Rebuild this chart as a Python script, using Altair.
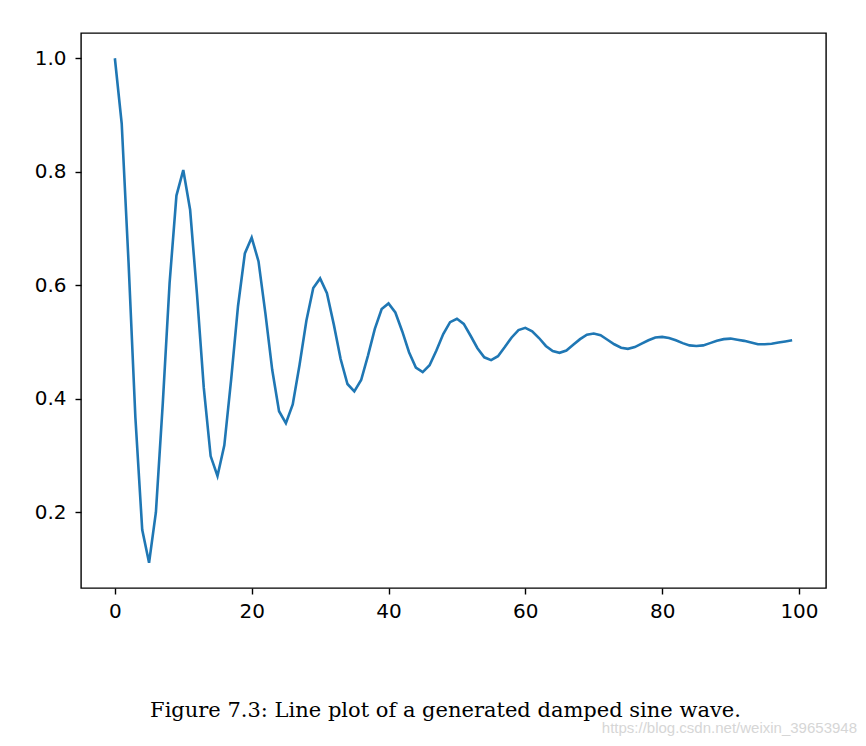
import altair as alt
import pandas as pd

# Data (x = 0..99, y = damped oscillation values)
x_vals = list(range(100))
y_vals = [
    1.000, 0.885, 0.640, 0.367, 0.169, 0.111, 0.200, 0.391, 0.604, 0.758,
    0.803, 0.733, 0.585, 0.419, 0.299, 0.264, 0.318, 0.434, 0.563, 0.656,
    0.684, 0.642, 0.551, 0.451, 0.378, 0.357, 0.390, 0.460, 0.538, 0.595,
    0.612, 0.586, 0.531, 0.470, 0.426, 0.413, 0.433, 0.476, 0.523, 0.558,
    0.568, 0.552, 0.519, 0.482, 0.455, 0.447, 0.459, 0.485, 0.514, 0.535,
    0.541, 0.532, 0.511, 0.489, 0.473, 0.468, 0.475, 0.491, 0.508, 0.521,
    0.525, 0.519, 0.507, 0.493, 0.484, 0.481, 0.485, 0.495, 0.505, 0.513,
    0.515, 0.512, 0.504, 0.496, 0.490, 0.488, 0.491, 0.497, 0.503, 0.508,
    0.509, 0.507, 0.503, 0.498, 0.494, 0.493, 0.494, 0.498, 0.502, 0.505,
    0.506, 0.504, 0.502, 0.499, 0.496, 0.496, 0.497, 0.499, 0.501, 0.503,
]
x_ticks = [0, 20, 40, 60, 80, 100]
y_ticks = [0.2, 0.4, 0.6, 0.8, 1.0]
caption = ["Figure 7.3: Line plot of a generated damped sine wave."]
watermark = ["https://blog.csdn.net/weixin_39653948"]

df = pd.DataFrame({"x": x_vals, "y": y_vals})

axis_common = dict(
    grid=False,
    domain=False,
    ticks=True,
    tickColor="black",
    tickSize=6,
    tickWidth=1.4,
    labelFont="DejaVu Sans",
    labelFontSize=20,
    labelColor="black",
    title=None,
)

line = alt.Chart(df).mark_line(color="#1f77b4", strokeWidth=2.6).encode(
    x=alt.X("x:Q",
            scale=alt.Scale(domain=[-4.95, 103.95], nice=False, zero=False),
            axis=alt.Axis(values=x_ticks, format="d", labelPadding=7, **axis_common)),
    y=alt.Y("y:Q",
            scale=alt.Scale(domain=[0.0665, 1.0445], nice=False, zero=False),
            axis=alt.Axis(values=y_ticks, format=".1f", labelPadding=9, **axis_common)),
)

cap = alt.Chart(pd.DataFrame({"t": caption})).mark_text(
    font="DejaVu Serif", fontSize=21, color="black", align="center", baseline="alphabetic"
).encode(x=alt.value(364.5), y=alt.value(684), text="t:N")

wm = alt.Chart(pd.DataFrame({"t": watermark})).mark_text(
    font="Liberation Sans", fontSize=15, color="#d6d6d6", align="right", baseline="middle"
).encode(x=alt.value(776), y=alt.value(695), text="t:N")

chart = alt.layer(line, cap, wm).properties(
    width=745,
    height=555,
    background="white",
    autosize=alt.AutoSizeParams(type="none"),
    padding={"left": 73, "top": 25, "right": 32, "bottom": 150},
).configure_view(
    stroke="black", strokeWidth=1.4
)

chart.save("out.html", embed_options={"renderer": "svg", "actions": False})
